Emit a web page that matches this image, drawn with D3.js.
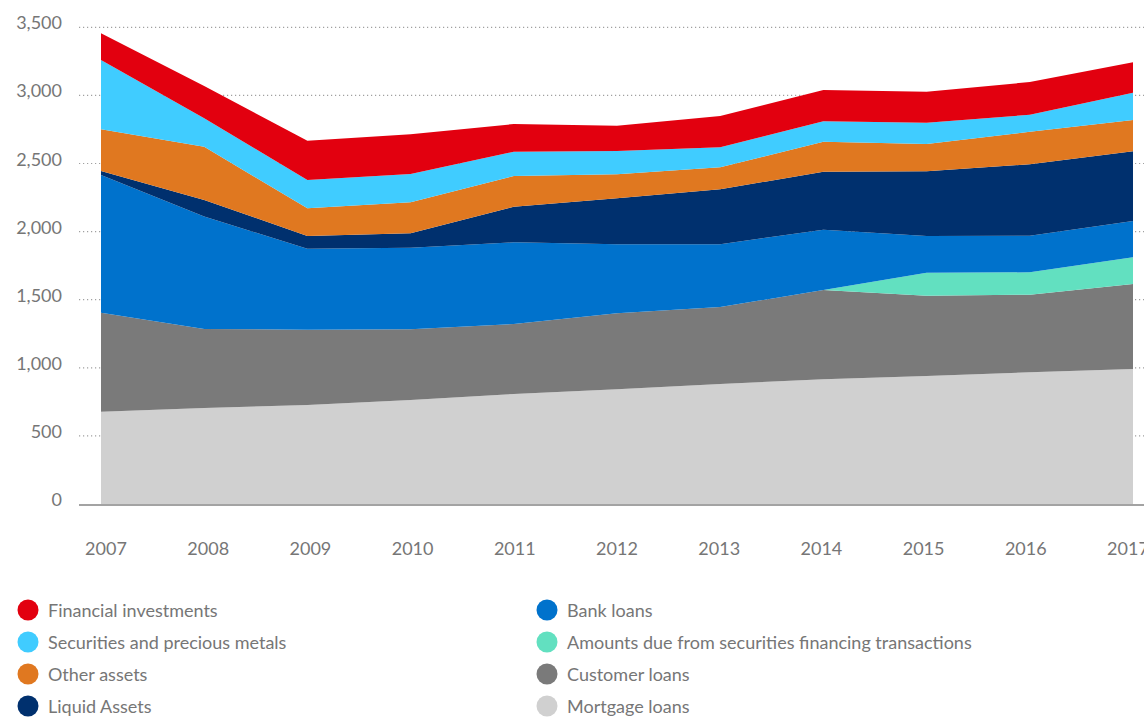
<!DOCTYPE html>
<html>
<head>
<meta charset="utf-8">
<script src="https://cdn.jsdelivr.net/npm/d3@7"></script>
<style>
  body { margin: 0; background: #fff; }
  text { font-family: Lato, "Open Sans", sans-serif; fill: #767676; }
</style>
</head>
<body>
<script>
const w = 1144;
const h = 720;

// data, bottom of the stack first
const years = [2007, 2008, 2009, 2010, 2011, 2012, 2013, 2014, 2015, 2016, 2017];
const mortgageLoans   = [678, 705, 727, 764, 808, 842, 881, 916, 940, 967, 991];
const customerLoans   = [727, 580, 553, 519, 514, 558, 565, 655, 589, 570, 624];
const sftAmounts      = [0, 0, 0, 0, 0, 0, 0, 0, 169, 164, 196];
const bankLoans       = [1010, 825, 595, 599, 599, 507, 461, 443, 270, 269, 267];
const liquidAssets    = [30, 122, 93, 106, 262, 337, 404, 426, 475, 524, 512];
const otherAssets     = [306, 391, 203, 227, 225, 177, 161, 220, 200, 239, 229];
const securities      = [509, 209, 208, 208, 179, 171, 147, 150, 157, 125, 201];
const finInvestments  = [196, 237, 288, 291, 203, 186, 230, 230, 227, 240, 223];

const yTicks = [0, 500, 1000, 1500, 2000, 2500, 3000, 3500];

const series = [
  { key: "mortgage", label: "Mortgage loans", values: mortgageLoans, color: "#d0d0d0" },
  { key: "customer", label: "Customer loans", values: customerLoans, color: "#7a7a7a" },
  { key: "sft", label: "Amounts due from securities financing transactions", values: sftAmounts, color: "#62e0c0" },
  { key: "bank", label: "Bank loans", values: bankLoans, color: "#0072cc" },
  { key: "liquid", label: "Liquid Assets", values: liquidAssets, color: "#00306e" },
  { key: "other", label: "Other assets", values: otherAssets, color: "#e07820" },
  { key: "securities", label: "Securities and precious metals", values: securities, color: "#40ccff" },
  { key: "financial", label: "Financial investments", values: finInvestments, color: "#e2000f" }
];

const rows = years.map((y, i) => {
  const r = { year: y };
  series.forEach(s => r[s.key] = s.values[i]);
  return r;
});

const svg = d3.select("body")
              .append("svg")
              .attr("width", w)
              .attr("height", h);

const xScale = d3.scaleLinear()
                 .domain([2007, 2017])
                 .range([101, 1133]);

// the year labels sit on a slightly different spacing than the data
const xLabel = d3.scaleLinear()
                 .domain([2007, 2017])
                 .range([106, 1128]);

const yScale = d3.scaleLinear()
                 .domain([0, 3500])
                 .range([504, 27.3]);

// dotted grid
svg.append("g")
   .selectAll("line")
   .data(yTicks.filter(d => d > 0))
   .enter()
   .append("line")
   .attr("x1", 79)
   .attr("x2", w)
   .attr("y1", d => yScale(d))
   .attr("y2", d => yScale(d))
   .attr("stroke", "#a0a0a0")
   .attr("stroke-width", 1.2)
   .attr("stroke-dasharray", "1.2,2.8");

// stacked areas
const stack = d3.stack().keys(series.map(s => s.key));
const layers = stack(rows);

const area = d3.area()
               .x(d => xScale(d.data.year))
               .y0(d => yScale(d[0]))
               .y1(d => yScale(d[1]));

svg.append("g")
   .selectAll("path")
   .data(layers)
   .enter()
   .append("path")
   .attr("d", area)
   .attr("fill", (d, i) => series[i].color);

// baseline
svg.append("line")
   .attr("x1", 79)
   .attr("x2", w)
   .attr("y1", 505)
   .attr("y2", 505)
   .attr("stroke", "#858585")
   .attr("stroke-width", 1.5);

// y labels
svg.append("g")
   .selectAll("text")
   .data(yTicks)
   .enter()
   .append("text")
   .attr("x", 62)
   .attr("y", d => yScale(d) + 2)
   .attr("text-anchor", "end")
   .attr("font-size", "18px")
   .text(d => d3.format(",")(d));

// x labels (2017 runs off the right edge, as in the original)
svg.append("g")
   .selectAll("text")
   .data(years)
   .enter()
   .append("text")
   .attr("x", d => xLabel(d))
   .attr("y", 555)
   .attr("text-anchor", "middle")
   .attr("font-size", "18px")
   .text(d => d);

// legend, two columns of four
const legendOrder = ["financial", "securities", "other", "liquid", "bank", "sft", "customer", "mortgage"];
const legend = svg.append("g").attr("id", "legend");

const item = legend.selectAll("g")
  .data(legendOrder.map(k => series.find(s => s.key === k)))
  .enter()
  .append("g")
  .attr("transform", (d, i) => `translate(${i < 4 ? 28 : 547}, ${610 + (i % 4) * 32})`);

item.append("circle")
    .attr("r", 10.5)
    .attr("fill", d => d.color);

item.append("text")
    .attr("x", 20)
    .attr("y", 7)
    .attr("font-size", "18px")
    .text(d => d.label);
</script>
</body>
</html>
